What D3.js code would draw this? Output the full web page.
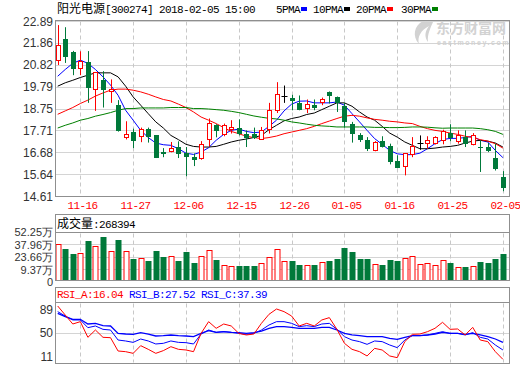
<!DOCTYPE html>
<html><head><meta charset="utf-8">
<script src="https://cdn.jsdelivr.net/npm/d3@7"></script>
<style>body{margin:0;background:#fff;} svg{display:block;}</style>
</head><body>
<svg id="c" width="520" height="365"></svg>
<script>
// ---------------- data ----------------
const dates = ["11-13","11-14","11-15","11-16","11-17","11-20","11-21","11-22","11-23","11-24",
 "11-27","11-28","11-29","11-30","12-01","12-04","12-05","12-06","12-07","12-08",
 "12-11","12-12","12-13","12-14","12-15","12-18","12-19","12-20","12-21","12-22",
 "12-25","12-26","12-27","12-28","12-29","01-02","01-03","01-04","01-05","01-08",
 "01-09","01-10","01-11","01-12","01-15","01-16","01-17","01-18","01-19","01-22",
 "01-23","01-24","01-25","01-26","01-29","01-30","01-31","02-01","02-02","02-05"];
const openP  = [21.06,22.06,21.40,20.65,20.97,19.67,20.11,19.58,18.93,17.38,
 17.63,17.44,17.79,17.50,16.68,16.73,16.92,16.66,16.44,16.40,
 17.30,17.98,17.52,17.77,17.82,17.55,17.54,17.33,17.80,18.66,
 19.34,19.26,19.01,18.77,18.93,19.04,19.53,19.29,18.89,18.01,
 17.50,17.27,16.79,17.19,16.98,16.27,16.05,16.60,17.14,17.14,
 17.11,17.27,17.61,17.23,17.39,17.08,16.94,16.95,16.41,15.50];
const highP  = [22.72,22.62,21.50,21.48,21.49,20.50,20.54,20.15,19.17,18.17,
 17.82,17.87,17.87,17.50,16.90,17.19,17.22,16.95,16.64,17.23,
 18.30,18.03,18.06,18.22,18.26,17.74,17.87,17.90,19.04,20.02,
 19.86,19.42,19.39,19.20,19.20,19.29,19.58,19.34,19.04,18.14,
 17.61,17.42,17.23,17.46,17.11,16.56,16.64,17.42,17.50,17.46,
 17.46,17.77,18.03,17.74,17.74,17.61,17.27,17.14,17.11,15.81];
const lowP   = [20.83,20.93,20.35,20.35,19.04,18.66,18.82,19.04,17.68,17.31,
 16.90,17.18,17.16,16.43,16.47,16.70,16.43,15.57,16.05,16.35,
 16.98,17.41,17.46,17.59,17.50,16.95,17.33,17.30,17.59,18.56,
 19.04,18.69,18.69,18.56,18.69,18.93,19.01,18.61,17.87,17.16,
 17.19,16.76,16.75,16.93,16.13,15.95,15.61,16.47,16.82,16.87,
 17.07,17.08,17.23,17.11,16.95,17.03,15.77,16.71,15.84,14.86];
const closeP = [21.76,21.22,20.65,20.98,19.75,20.46,19.69,19.67,17.71,17.54,
 17.28,17.79,17.44,16.47,16.66,16.89,16.64,16.52,16.37,17.06,
 18.06,17.71,17.95,17.87,17.58,17.42,17.40,17.74,18.69,19.44,
 19.34,19.13,18.72,18.98,18.80,19.20,19.37,19.04,18.18,17.59,
 17.30,16.87,17.16,16.98,16.28,16.00,16.64,16.98,17.14,17.27,
 17.38,17.69,17.42,17.50,17.14,17.50,16.92,16.79,15.95,15.02];
const ma5  = [20.30,20.62,20.91,21.06,20.91,20.62,20.27,19.88,19.40,18.69,
 18.22,17.74,17.40,17.14,17.06,17.03,16.87,16.66,16.60,16.71,
 16.92,17.27,17.55,17.74,17.80,17.69,17.63,17.66,17.93,18.22,
 18.66,18.98,19.12,19.13,19.04,19.04,19.04,19.08,18.93,18.53,
 18.14,17.74,17.35,17.08,16.79,16.63,16.59,16.59,16.66,16.87,
 17.11,17.30,17.36,17.36,17.40,17.46,17.27,17.19,16.79,16.45];
const ma10 = [19.83,19.99,20.11,20.24,20.35,20.46,20.46,20.46,20.27,19.83,
 19.32,18.93,18.53,18.14,17.85,17.50,17.30,17.08,16.98,16.95,
 16.95,16.98,17.08,17.19,17.27,17.33,17.40,17.50,17.77,17.98,
 18.19,18.30,18.37,18.49,18.56,18.72,18.88,19.04,19.04,18.88,
 18.61,18.37,18.22,17.93,17.61,17.42,17.19,17.03,16.87,16.87,
 16.90,16.95,16.98,17.03,17.14,17.23,17.27,17.23,17.14,16.95];
const ma20 = [18.50,18.66,18.82,19.01,19.17,19.36,19.51,19.64,19.69,19.69,
 19.64,19.56,19.45,19.32,19.20,19.13,18.98,18.82,18.61,18.37,
 18.22,18.06,17.87,17.69,17.58,17.46,17.40,17.35,17.40,17.47,
 17.58,17.66,17.74,17.82,17.93,18.06,18.18,18.30,18.41,18.45,
 18.41,18.33,18.26,18.22,18.17,18.14,18.09,18.06,17.93,17.82,
 17.74,17.69,17.61,17.55,17.46,17.40,17.30,17.23,17.11,16.90];
const ma30 = [17.85,17.98,18.09,18.22,18.30,18.41,18.49,18.58,18.69,18.77,
 18.77,18.80,18.80,18.80,18.80,18.82,18.82,18.82,18.77,18.77,
 18.75,18.72,18.69,18.64,18.58,18.50,18.42,18.36,18.31,18.28,
 18.22,18.14,18.09,18.03,17.98,17.95,17.93,17.90,17.90,17.90,
 17.90,17.90,17.88,17.88,17.87,17.87,17.88,17.90,17.90,17.89,
 17.86,17.84,17.85,17.85,17.85,17.85,17.82,17.77,17.69,17.55];
const volume = [38.3,32.9,27.3,28.4,42.0,36.0,46.6,30.7,43.2,30.7,
 21.6,22.4,19.3,30.7,23.9,24.6,18.5,29.5,17.0,24.6,
 31.4,20.4,14.4,13.6,13.6,13.6,13.6,16.7,23.5,32.6,
 19.3,19.3,14.8,14.8,14.8,17.8,19.3,21.6,34.1,28.8,
 21.6,21.6,15.9,14.8,20.4,18.5,22.7,24.6,15.9,16.7,
 14.8,20.4,17.0,12.1,12.5,13.3,18.2,17.0,21.6,26.84];
const rsiA = [95,80,65,68.9,42.8,55,42.8,42.2,20,18.9,
 16.1,28.9,22.8,16.1,20.6,27.2,22.8,21.7,18.9,49.4,
 68.9,57.8,65,61.7,49.4,46.7,48.3,66.1,81.1,90,
 85.6,78.3,61.7,66.1,61.7,71.7,75.6,56.1,32.8,22.8,
 18.9,11.7,24.4,21.7,11.7,8.9,35.6,47.8,48.3,52.2,
 57.8,67.8,56.1,56.7,46.7,59.4,38.3,35.6,18.9,6.1];
const rsiB = [85.6,78.3,71.7,71.7,58.9,61.7,56.1,55,38.3,36.7,
 34.4,40,36.7,31.7,32.8,36.7,34.4,33.9,31.7,48.3,
 55,51.1,52.2,51.1,49.4,47.8,49.4,55,63.3,68.9,
 68.9,66.1,60.6,62.2,60.6,65,66.1,56.1,43.9,38.3,
 35.6,31.1,36.7,35.6,30,25.6,38.3,45.6,45.6,46.7,
 49.4,52.2,49.4,49.4,46.7,50.6,42.8,40,30,21.7];
const rsiC = [82.8,77.2,72.8,72.8,65,66.1,62.2,61.7,49.4,48.3,
 47.8,50.6,48.3,45,45.6,46.7,45.6,45,43.9,49.4,
 53.9,51.1,52.2,51.1,50.6,49.4,50.6,53.3,57.8,60.6,
 60.6,59.4,57.8,57.8,57.8,59.4,59.4,55,49.4,46.7,
 45.6,43.9,43.9,43.9,41.1,39.4,42.8,45.6,45.6,46.7,
 48.3,51.1,49.4,49.4,47.8,49.4,46.7,43.9,40,34.4];
const priceTicks = [22.89,21.86,20.82,19.79,18.75,17.71,16.68,15.64,14.61];
const volTicks = [52.25,37.96,23.66,9.37,0];
const volTickLabels = ["52.25万","37.96万","23.66万","9.37万","0"];
const rsiTicks = [89,50,11];
const dateTicks = ["11-16","11-27","12-06","12-15","12-26","01-05","01-16","01-25","02-05"];
const maNames = ["5PMA","10PMA","20PMA","30PMA"];
const maColors = ["#0000ff","#000000","#ff0000","#008000"];

// ---------------- layout ----------------
const L = 55.5, R = 509.5;
const mainTop = 20.5, mainBot = 196.5;
const volHeadTop = 214.5, volHeadBot = 232.5, volBot = 280.5;
const rsiHeadTop = 287.5, rsiHeadBot = 302.5, rsiBot = 363.5;
const RED = "#ff0000", GREEN = "#00793a", GRID = "#d4d4d4", FRAME = "#8f8f8f";
const mono = "'Liberation Mono','DejaVu Sans Mono',monospace";
const cjk = "'Noto Sans CJK SC','Noto Sans',sans-serif";
const sans = "'Liberation Sans',Arial,sans-serif";

const svg = d3.select("#c");
const x = d3.scalePoint().domain(dates).range([57.7, 502.9]);
const px = d => Math.round(x(d)) + 0.5;
const y = d3.scaleLinear().domain([14.61, 22.89]).range([196.5, 21.5]);
const yv = d3.scaleLinear().domain([0, 52.25]).range([278, 232.5]);
const yr = d3.scaleLinear().domain([0, 100]).range([363, 303]);
const snap = v => Math.floor(v) + 0.5;

function mixed(g, x0, yb, parts) {
  const t = g.append("text").attr("x", x0).attr("y", yb);
  parts.forEach(p => {
    const s = t.append("tspan").text(p.t).attr("fill", p.c || "#000");
    if (p.cjk) s.style("font-family", cjk).style("font-size", "12px");
    else s.style("font-family", mono).style("font-size", "11px").style("letter-spacing", "-0.6px");
  });
  return t;
}

// ---------------- title & legend ----------------
mixed(svg, 57, 13, [{t:"阳光电源", cjk:true}, {t:"[300274] 2018-02-05 15:00"}]);
const legX = [276, 313, 356, 401];
maNames.forEach((n, i) => {
  mixed(svg, legX[i], 13, [{t:n}]);
  const w = n.length * 6;
  svg.append("rect").attr("x", legX[i] + w + 1).attr("y", 7).attr("width", 6).attr("height", 4).attr("fill", maColors[i]);
});

// ---------------- main panel ----------------
const gm = svg.append("g");
priceTicks.forEach(t => {
  gm.append("line").attr("x1", L).attr("x2", R).attr("y1", snap(y(t))).attr("y2", snap(y(t)))
    .attr("stroke", GRID);
  gm.append("text").attr("x", 53).attr("y", y(t)).attr("dy", "0.35em").attr("text-anchor", "end")
    .style("font-family", sans).style("font-size", "12px").attr("fill", "#333").text(t.toFixed(2));
});
function vdash(g, t0, t1) {
  dateTicks.forEach(d => g.append("line").attr("x1", px(d)).attr("x2", px(d)).attr("y1", t0).attr("y2", t1)
    .attr("stroke", "#c8c8c8").attr("stroke-dasharray", "4,3"));
}
vdash(gm, mainTop + 1, mainBot - 1);

// watermark
const wm = svg.append("g").attr("fill", "#d2d2d2");
wm.append("path").attr("d", "M423,21 C414,26 412,36 419,44 C417,37 421,30 429,26 C425,31 424,37 428,42 C427,34 431,27 433,22 Z");
wm.append("text").attr("x", 436).attr("y", 33).style("font-family", cjk).style("font-size", "14px")
  .style("font-weight", "bold").text("东方财富网");
wm.append("text").attr("x", 437).attr("y", 44.5).style("font-family", sans).style("font-size", "7px")
  .style("font-weight", "bold").style("letter-spacing", "1.6px").text("eastmoney.com");

// MA lines
[ma5, ma10, ma20, ma30].forEach((arr, k) => {
  gm.append("path").datum(arr)
    .attr("d", d3.line().x((v, i) => x(dates[i])).y(v => y(v)))
    .attr("fill", "none").attr("stroke", maColors[k]).attr("stroke-width", 1);
});

// candles
dates.forEach((d, i) => {
  const o = openP[i], c = closeP[i], h = highP[i], l = lowP[i];
  const cx = px(d);
  const col = c > o ? RED : (c < o ? GREEN : "#000");
  const top = snap(y(Math.max(o, c))), bot = snap(y(Math.min(o, c)));
  if (c > o) {
    gm.append("line").attr("x1", cx).attr("x2", cx).attr("y1", y(h)).attr("y2", top).attr("stroke", col);
    gm.append("line").attr("x1", cx).attr("x2", cx).attr("y1", bot).attr("y2", y(l)).attr("stroke", col);
    gm.append("rect").attr("x", cx - 2).attr("y", top).attr("width", 4).attr("height", Math.max(1, bot - top))
      .attr("fill", "#fff").attr("stroke", col);
  } else {
    gm.append("line").attr("x1", cx).attr("x2", cx).attr("y1", y(h)).attr("y2", y(l)).attr("stroke", col);
    if (c < o) {
      gm.append("rect").attr("x", cx - 2.5).attr("y", top - 0.5).attr("width", 5).attr("height", Math.max(1, bot - top + 1))
        .attr("fill", col);
    } else {
      gm.append("line").attr("x1", cx - 3).attr("x2", cx + 3).attr("y1", top).attr("y2", top).attr("stroke", col);
    }
  }
});
gm.append("rect").attr("x", L).attr("y", mainTop).attr("width", R - L).attr("height", mainBot - mainTop)
  .attr("fill", "none").attr("stroke", FRAME);

// date labels
dateTicks.forEach(d => {
  svg.append("text").attr("x", px(d) + 2).attr("y", 209).attr("text-anchor", "middle")
    .style("font-family", mono).style("font-size", "11px").style("letter-spacing", "-0.6px")
    .attr("fill", RED).text(d);
});

// ---------------- volume panel ----------------
const gv = svg.append("g");
volTicks.slice(1, 4).forEach(t => gv.append("line").attr("x1", L).attr("x2", R)
  .attr("y1", snap(yv(t))).attr("y2", snap(yv(t))).attr("stroke", GRID));
vdash(gv, volHeadBot + 1, volBot - 1);
volTicks.forEach((t, i) => {
  gv.append("text").attr("x", 53).attr("y", t === 0 ? yv(t) + 4.5 : yv(t)).attr("dy", "0.35em").attr("text-anchor", "end")
    .style("font-family", sans).style("font-size", "11px").attr("fill", "#333").text(volTickLabels[i]);
});
dates.forEach((d, i) => {
  const cx = px(d);
  const up = closeP[i] >= openP[i];
  const top = snap(yv(volume[i]));
  if (up) {
    gv.append("rect").attr("x", cx - 2.5).attr("y", top).attr("width", 5).attr("height", volBot - top)
      .attr("fill", "#fff").attr("stroke", RED);
  } else {
    gv.append("rect").attr("x", cx - 3).attr("y", top - 0.5).attr("width", 6).attr("height", volBot - top + 0.5)
      .attr("fill", GREEN);
  }
});
gv.append("rect").attr("x", L).attr("y", volHeadTop).attr("width", R - L).attr("height", volBot - volHeadTop)
  .attr("fill", "none").attr("stroke", FRAME);
gv.append("line").attr("x1", L).attr("x2", R).attr("y1", volHeadBot).attr("y2", volHeadBot).attr("stroke", FRAME);
mixed(gv, 57, 228, [{t:"成交量", cjk:true}, {t:":268394"}]);

// ---------------- RSI panel ----------------
const gr = svg.append("g");
gr.append("line").attr("x1", L).attr("x2", R).attr("y1", snap(yr(50))).attr("y2", snap(yr(50))).attr("stroke", GRID);
vdash(gr, rsiHeadBot + 1, rsiBot - 1);
rsiTicks.forEach(t => gr.append("text").attr("x", 53).attr("y", yr(t)).attr("dy", "0.35em").attr("text-anchor", "end")
  .style("font-family", sans).style("font-size", "12px").attr("fill", "#333").text(t));
[[rsiC, "#0000ff", 1.3], [rsiB, "#0000ff", 1], [rsiA, RED, 1]].forEach(([arr, col, w]) => {
  gr.append("path").datum(arr)
    .attr("d", d3.line().x((v, i) => x(dates[i])).y(v => yr(v)))
    .attr("fill", "none").attr("stroke", col).attr("stroke-width", w);
});
gr.append("rect").attr("x", L).attr("y", rsiHeadTop).attr("width", R - L).attr("height", rsiBot - rsiHeadTop)
  .attr("fill", "none").attr("stroke", FRAME);
gr.append("line").attr("x1", L).attr("x2", R).attr("y1", rsiHeadBot).attr("y2", rsiHeadBot).attr("stroke", FRAME);
mixed(gr, 57, 298, [{t:"RSI_A:16.04", c:RED}, {t:" RSI_B:27.52", c:"#0000ff"}, {t:" RSI_C:37.39", c:"#0000ff"}]);
</script>
</body></html>
